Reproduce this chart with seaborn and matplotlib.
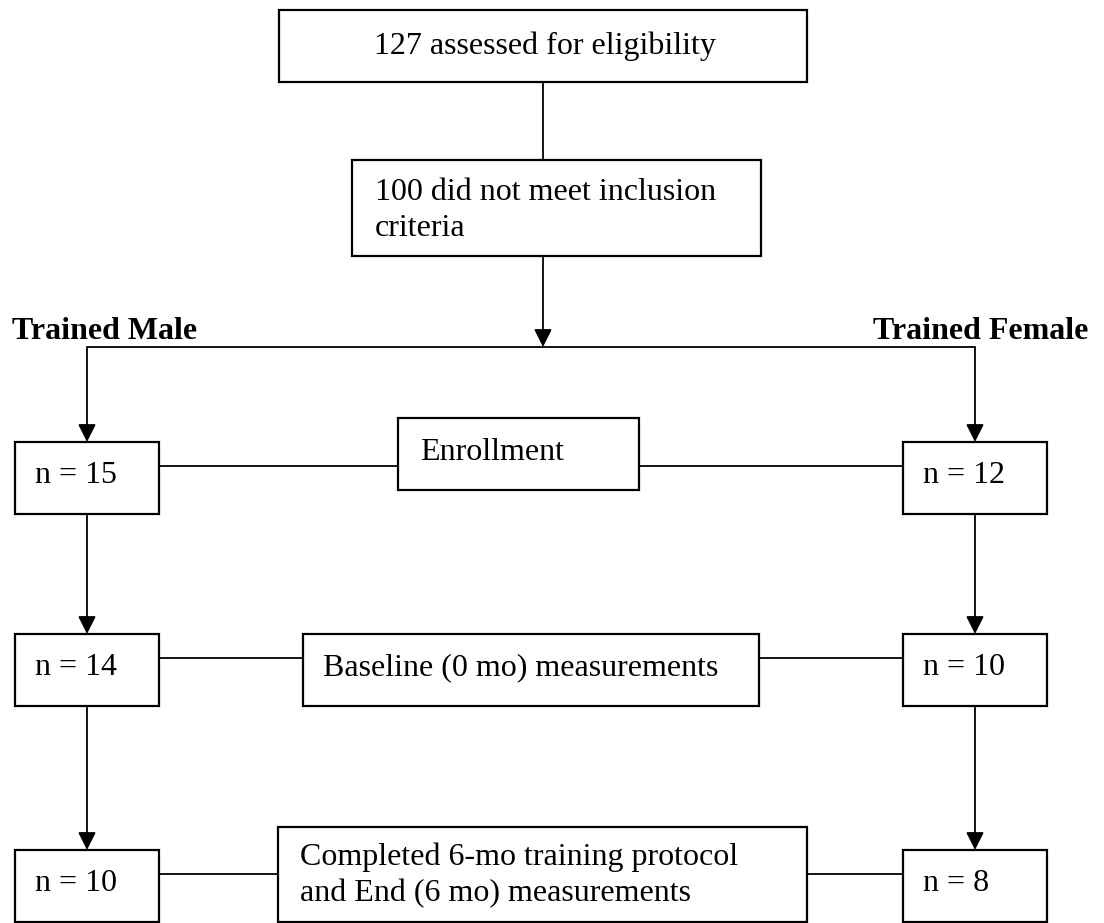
import numpy as np
import pandas as pd
import seaborn as sns
import matplotlib.pyplot as plt
from matplotlib.patches import Rectangle

# Flow data
assessed = 127
excluded = 100
groups = ['Trained Male', 'Trained Female']
stages = [['Enrollment'],
          ['Baseline (0 mo) measurements'],
          ['Completed 6-mo training protocol', 'and End (6 mo) measurements']]
male_n = [15, 14, 10]
female_n = [12, 10, 8]

# Layout (pixel coords, y downwards)
row_top = [442, 634, 850]
row_h = 72
row_line_y = [466, 658, 874]
side_x = [(15, 159), (903, 1047)]
stage_boxes = [(398, 418, 639, 490), (303, 634, 759, 706), (278, 827, 807, 922)]
stage_text = [(420, 460), (323, 675), (300, 865)]
LINE_STEP = 36

sns.set_style('white')
plt.rcParams['font.family'] = ['Liberation Serif', 'DejaVu Serif']
plt.rcParams['text.color'] = 'black'

fig = plt.figure(figsize=(11.04, 9.23), dpi=100)
ax = fig.add_axes([0, 0, 1, 1])
ax.set_xlim(0, 1104)
ax.set_ylim(923, 0)
ax.axis('off')

FS = 23
BOX_LW = 1.6
LINE_LW = 1.3


def box(x0, y0, x1, y1):
    ax.add_patch(Rectangle((x0, y0), x1 - x0, y1 - y0, fill=False,
                           edgecolor='black', lw=BOX_LW))


def line(xs, ys):
    ax.plot(xs, ys, color='black', lw=LINE_LW, solid_capstyle='butt')


def arrow(x, y0, y1):
    ax.annotate('', xy=(x, y1), xytext=(x, y0),
                arrowprops=dict(arrowstyle='-|>,head_length=0.72,head_width=0.36',
                                color='black', lw=LINE_LW, mutation_scale=15,
                                shrinkA=0, shrinkB=0))


def lines_text(x, y, rows, **kw):
    for i, t in enumerate(rows):
        ax.text(x, y + i * LINE_STEP, t, fontsize=FS, va='baseline', **kw)


# top boxes
box(279, 10, 807, 82)
lines_text(374, 54, [f'{assessed} assessed for eligibility'])
line([543, 543], [82, 160])
box(352, 160, 761, 256)
lines_text(375, 200, [f'{excluded} did not meet inclusion', 'criteria'])
arrow(543, 256, 347)

# split
line([87, 975], [347, 347])
ax.text(12, 339, groups[0], fontsize=FS, fontweight='bold', va='baseline')
ax.text(1088, 339, groups[1], fontsize=FS, fontweight='bold', va='baseline', ha='right')

side_counts = [male_n, female_n]
for s, (x0, x1) in enumerate(side_x):
    xc = (x0 + x1) / 2
    prev = 347
    for r, n in enumerate(side_counts[s]):
        top = row_top[r]
        arrow(xc, prev, top)
        box(x0, top, x1, top + row_h)
        ax.text(x0 + 20, top + 41, f'n = {n}', fontsize=FS, va='baseline')
        prev = top + row_h

for r, rows in enumerate(stages):
    bx0, by0, bx1, by1 = stage_boxes[r]
    box(bx0, by0, bx1, by1)
    tx, ty = stage_text[r]
    lines_text(tx, ty, rows)
    y = row_line_y[r]
    line([side_x[0][1], bx0], [y, y])
    line([bx1, side_x[1][0]], [y, y])

fig.savefig('out.png', dpi=100)
